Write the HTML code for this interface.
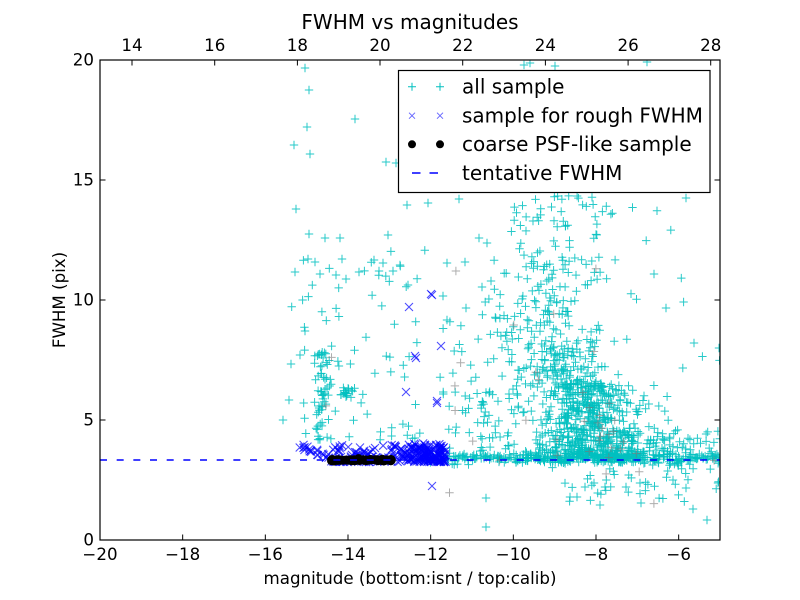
<!DOCTYPE html>
<html><head><meta charset="utf-8"><style>
html,body{margin:0;padding:0;background:#fff;}
svg{display:block;}
text{font-family:"DejaVu Sans","Liberation Sans",sans-serif;fill:#000;}
</style></head><body>
<svg id="s" width="800" height="600" viewBox="0 0 800 600" xmlns="http://www.w3.org/2000/svg">
<defs><clipPath id="c"><rect x="100" y="60" width="620" height="480"/></clipPath></defs>
<rect width="800" height="600" fill="#fff"/>
<g clip-path="url(#c)">
<g id="cy" fill="none" stroke="#00BFBF" stroke-width="1" stroke-opacity="0.85"></g>
<g id="gr" fill="none" stroke="#777" stroke-width="1" stroke-opacity="0.6"></g>
<g id="bl" fill="none" stroke="#0000FF" stroke-width="1.1" stroke-opacity="0.7"></g>
<g id="bk" fill="#000" stroke="none"></g>
<line x1="100" y1="460" x2="720" y2="460" stroke="#0000FF" stroke-width="1.5" stroke-dasharray="7 9.67"/>
</g>
<rect x="100" y="60" width="620" height="480" fill="none" stroke="#000" stroke-width="1.2"/>
<g stroke="#000" stroke-width="1">
<line x1="100" y1="540" x2="100" y2="534.5"/><line x1="182.67" y1="540" x2="182.67" y2="534.5"/><line x1="265.33" y1="540" x2="265.33" y2="534.5"/><line x1="348" y1="540" x2="348" y2="534.5"/><line x1="430.67" y1="540" x2="430.67" y2="534.5"/><line x1="513.33" y1="540" x2="513.33" y2="534.5"/><line x1="596" y1="540" x2="596" y2="534.5"/><line x1="678.67" y1="540" x2="678.67" y2="534.5"/>
<line x1="132" y1="60" x2="132" y2="65.5"/><line x1="214.7" y1="60" x2="214.7" y2="65.5"/><line x1="297.4" y1="60" x2="297.4" y2="65.5"/><line x1="380" y1="60" x2="380" y2="65.5"/><line x1="462.7" y1="60" x2="462.7" y2="65.5"/><line x1="545.4" y1="60" x2="545.4" y2="65.5"/><line x1="628.1" y1="60" x2="628.1" y2="65.5"/><line x1="710.7" y1="60" x2="710.7" y2="65.5"/>
<line x1="100" y1="420" x2="105.5" y2="420"/><line x1="100" y1="300" x2="105.5" y2="300"/><line x1="100" y1="180" x2="105.5" y2="180"/>
<line x1="720" y1="420" x2="714.5" y2="420"/><line x1="720" y1="300" x2="714.5" y2="300"/><line x1="720" y1="180" x2="714.5" y2="180"/>
</g>
<g font-size="16.67" text-anchor="middle">
<text x="100" y="560">−20</text><text x="182.67" y="560">−18</text><text x="265.33" y="560">−16</text><text x="348" y="560">−14</text><text x="430.67" y="560">−12</text><text x="513.33" y="560">−10</text><text x="596" y="560">−8</text><text x="678.67" y="560">−6</text>
<text x="132" y="51">14</text><text x="214.7" y="51">16</text><text x="297.4" y="51">18</text><text x="380" y="51">20</text><text x="462.7" y="51">22</text><text x="545.4" y="51">24</text><text x="628.1" y="51">26</text><text x="710.7" y="51">28</text>
</g>
<g font-size="16.67" text-anchor="end">
<text x="94" y="545.5">0</text><text x="94" y="425.5">5</text><text x="94" y="305.5">10</text><text x="94" y="185.5">15</text><text x="94" y="65.5">20</text>
</g>
<text x="410" y="29" font-size="20" text-anchor="middle">FWHM vs magnitudes</text>
<text x="410" y="584" font-size="16.67" text-anchor="middle">magnitude (bottom:isnt / top:calib)</text>
<text transform="translate(65,300) rotate(-90)" font-size="16.67" text-anchor="middle">FWHM (pix)</text>
<rect x="398.5" y="70.5" width="311.5" height="122" fill="#fff" stroke="#000" stroke-width="1.2"/>
<g fill="none" stroke="#00BFBF" stroke-width="1">
<path d="M408 86.7h8M412 82.7v8M436 86.7h8M440 82.7v8"/>
</g>
<g fill="none" stroke="#0000FF" stroke-width="1" stroke-opacity="0.6">
<path d="M409 112.7l6 6M409 118.7l6 -6M437 112.7l6 6M437 118.7l6 -6"/>
</g>
<circle cx="412" cy="144.3" r="4" fill="#000"/><circle cx="440" cy="144.3" r="4" fill="#000"/>
<g stroke="#0000FF" stroke-width="1.5"><line x1="412" y1="173" x2="420.5" y2="173"/><line x1="429.5" y1="173" x2="438" y2="173"/></g>
<g font-size="20">
<text x="462" y="93.5">all sample</text>
<text x="462" y="122.5">sample for rough FWHM</text>
<text x="462" y="151">coarse PSF-like sample</text>
<text x="462" y="180">tentative FWHM</text>
</g>
</svg>
<script>
(function(){
var a=12345;
function R(){a|=0;a=a+0x6D2B79F5|0;var t=Math.imul(a^a>>>15,1|a);t=t+Math.imul(t^t>>>7,61|t)^t;return((t^t>>>14)>>>0)/4294967296;}
function G(){var u=1-R(),v=R();return Math.sqrt(-2*Math.log(u))*Math.cos(2*Math.PI*v);}
var C=[],B=[],K=[],Y=[];
function c(x,y){C.push([x,y]);}
var hand=[[305,68],[309,90],[307,127],[355,119],[294,145],[310,154],[386,162],[396,163],[407,205],[428,203],[459,199],[296,209],[309,234],[325,238],[340,238],[388,235],[308,259],[315,262],[342,259],[374,260],[383,263],[400,265],[447,263],[465,262],[295,272],[320,274],[336,275],[346,279],[359,272],[379,271],[393,271],[408,285],[443,296],[466,308],[447,320],[482,287],[491,281],[487,243],[479,238],[686,198],[654,274],[666,308],[694,343],[719,348],[647,62],[486,498],[570,497],[577,497],[585,487],[594,483],[605,487],[626,487],[640,483],[673,480],[693,509],[718,483],[707,520],[686,488],[524,65],[530,63],[555,66],[283,420],[289,400],[291,364],[300,355],[305,331],[486,527],[600,505],[641,503]];
hand.forEach(function(p){c(p[0],p[1]);});
var i,x,y;
for(i=0;i<55;i++){x=322+G()*4;y=440-88*Math.pow(R(),0.8);c(x,y);}
for(i=0;i<18;i++){c(347+G()*6,393+G()*5);}
for(i=0;i<65;i++){x=290+R()*135;y=440-190*Math.pow(R(),1.4);c(x,y);}
for(i=0;i<22;i++){c(505+R()*130,195+R()*40);}
for(i=0;i<30;i++){c(558+G()*24,195+R()*62);}
for(i=0;i<115;i++){c(553+G()*28,257+R()*83);}
for(i=0;i<145;i++){c(562+G()*26,340+R()*50);}
for(i=0;i<450;i++){c(587+G()*26,455-72*Math.pow(R(),1.3));}
for(i=0;i<80;i++){c(480+200*Math.pow(R(),1.4),390+R()*62);}
for(i=0;i<120;i++){c(610+110*Math.pow(R(),1.1),452+G()*11);}
for(i=0;i<220;i++){c(430+290*R(),458+G()*2.6);}
for(i=0;i<170;i++){c(580+G()*38,458+G()*3.2);}
for(i=0;i<30;i++){c(560+160*R(),467+R()*35);}
for(i=0;i<55;i++){c(440+R()*85,300+R()*160);}
for(i=0;i<10;i++){c(600+R()*120,200+R()*200);}
for(i=0;i<40;i++){var p=C[Math.floor(R()*C.length)];Y.push([p[0]+G()*15,p[1]+G()*15]);}
for(i=0;i<20;i++){x=297+R()*33;B.push([x,446+(x-297)*0.36+G()*2]);}
for(i=0;i<110;i++){B.push([330+R()*80,462-17*Math.pow(R(),1.8)]);}
for(i=0;i<150;i++){B.push([408+R()*38,462-19*Math.pow(R(),1.5)]);}
[[431,294],[432,295],[409,307],[441,346],[415,356],[416,358],[406,392],[437,401],[437,403],[432,486]].forEach(function(p){B.push(p);});
for(i=0;i<130;i++){K.push([331+R()*61,460+G()*0.6]);}
function f(v){return v.toFixed(1);}
var s='';C.forEach(function(p){s+='<path d="M'+f(p[0]-4.2)+' '+f(p[1])+'h8.4M'+f(p[0])+' '+f(p[1]-4.2)+'v8.4"/>';});
document.getElementById('cy').innerHTML=s;
s='';Y.forEach(function(p){s+='<path d="M'+f(p[0]-4.2)+' '+f(p[1])+'h8.4M'+f(p[0])+' '+f(p[1]-4.2)+'v8.4"/>';});
document.getElementById('gr').innerHTML=s;
s='';B.forEach(function(p){s+='<path d="M'+f(p[0]-4)+' '+f(p[1]-4)+'l8 8M'+f(p[0]-4)+' '+f(p[1]+4)+'l8 -8"/>';});
document.getElementById('bl').innerHTML=s;
s='';K.forEach(function(p){s+='<circle cx="'+f(p[0])+'" cy="'+f(p[1])+'" r="4"/>';});
document.getElementById('bk').innerHTML=s;
})();
</script>
</body></html>
